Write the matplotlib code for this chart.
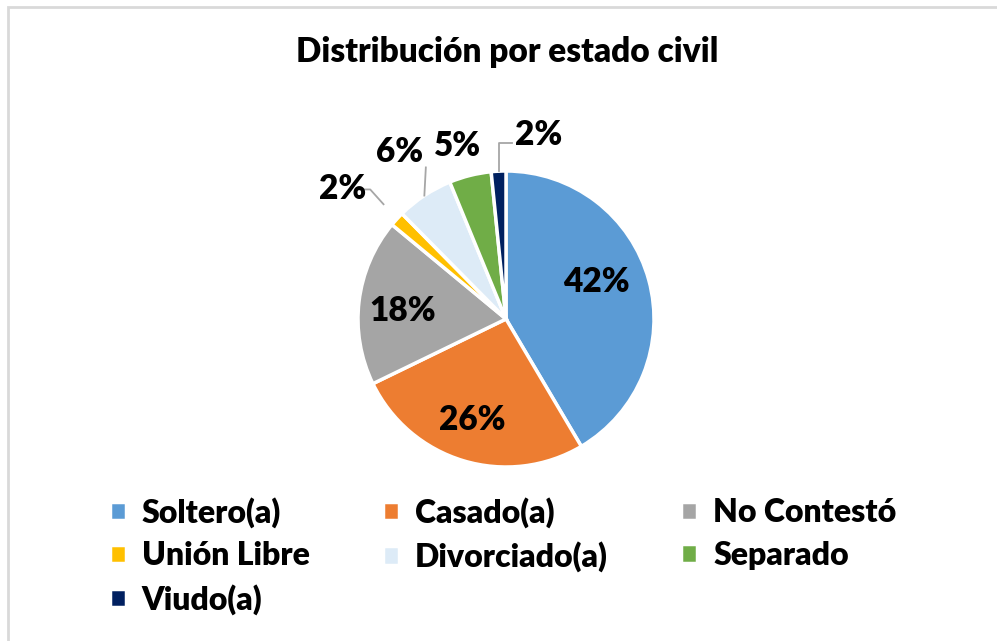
import numpy as np
import matplotlib
matplotlib.use('Agg')
import matplotlib.pyplot as plt
from matplotlib.patches import Rectangle

categorias = ['Soltero(a)', 'Casado(a)', 'No Contestó', 'Unión Libre',
              'Divorciado(a)', 'Separado', 'Viudo(a)']
porcentajes = [41.5, 26.3, 18.2, 1.6, 6.2, 4.6, 1.6]
etiquetas = ['42%', '26%', '18%', '2%', '6%', '5%', '2%']
colores = ['#5B9BD5', '#ED7D31', '#A5A5A5', '#FFC000',
           '#DDEBF7', '#70AD47', '#002060']

plt.rcParams['font.family'] = ['Lato', 'DejaVu Sans']
plt.rcParams['font.weight'] = 'heavy'

fig = plt.figure(figsize=(9.97, 6.41), dpi=100)
W, H = 997, 641

# marco gris del grafico
fig.patches.append(Rectangle((8 / W, 0 - 0.05), 1.1, (641 - 7) / H + 0.05,
                             transform=fig.transFigure, fill=False,
                             edgecolor='#D9D9D9', linewidth=2))

# eje del pastel: centro (506, 319) px, radio 148 px
cx, cy, r = 506, 319, 148
ax = fig.add_axes([(cx - r) / W, (H - cy - r) / H, 2 * r / W, 2 * r / H])
wedges, _ = ax.pie(porcentajes, colors=colores, startangle=90,
                   counterclock=False,
                   wedgeprops=dict(edgecolor='white', linewidth=2.5))
ax.set_xlim(-1, 1)
ax.set_ylim(-1, 1)
ax.set_aspect('equal')
ax.axis('off')

# dentro: (distancia, ajuste de angulo); fuera igual
dentro = {0: (0.66, 7), 1: (0.72, -2), 2: (0.70, 2.6)}
fuera = {3: (1.41, 4), 4: (1.34, -1), 5: (1.21, 1.5), 6: (1.26, -13)}

for i, w in enumerate(wedges):
    ang = np.deg2rad((w.theta1 + w.theta2) / 2)
    d, da = dentro[i] if i in dentro else fuera[i]
    a2 = ang + np.deg2rad(da)
    ax.text(d * np.cos(a2), d * np.sin(a2), etiquetas[i],
            ha='center', va='center', fontsize=24, fontweight='heavy',
            clip_on=False)

# lineas guia
def borde(i, rr=1.0):
    a = np.deg2rad((wedges[i].theta1 + wedges[i].theta2) / 2)
    return rr * np.cos(a), rr * np.sin(a)

gris = '#A6A6A6'
# Union Libre
x0, y0 = borde(3)
ax.plot([x0 - 0.09, x0 - 0.18, x0 - 0.27], [y0 + 0.1, y0 + 0.2, y0 + 0.2],
        color=gris, lw=1.3, clip_on=False)
# Divorciado
x0, y0 = borde(4)
ax.plot([x0, x0 + 0.01], [y0, y0 + 0.19], color=gris, lw=1.3, clip_on=False)
# Viudo
x0, y0 = borde(6)
ax.plot([x0, x0, x0 + 0.09], [y0, y0 + 0.19, y0 + 0.19],
        color=gris, lw=1.3, clip_on=False)

fig.text(507 / W, 1 - 52 / H, 'Distribución por estado civil',
         ha='center', va='center', fontsize=24, fontweight='heavy')

# orden para que la leyenda se llene por filas
orden = [0, 3, 6, 1, 4, 2, 5]
fig.legend([wedges[i] for i in orden], [categorias[i] for i in orden],
           ncol=3, loc='upper left',
           bbox_to_anchor=(97 / W, 1 - 484 / H), frameon=False,
           prop=dict(size=23, weight='heavy'),
           handlelength=0.5, handleheight=0.5,
           handletextpad=0.5, columnspacing=2.3, labelspacing=0.42,
           borderaxespad=0)

fig.savefig('out.png', dpi=100)
